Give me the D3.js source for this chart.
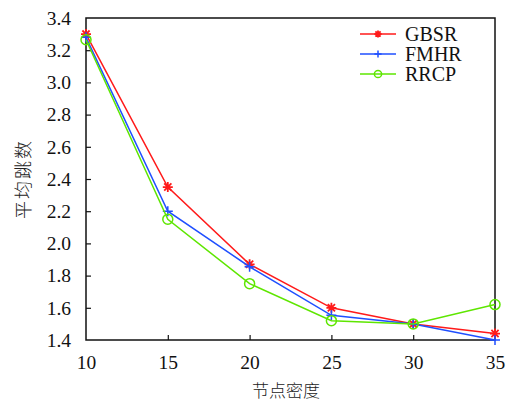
<!DOCTYPE html>
<html>
<head>
<meta charset="utf-8">
<script src="https://cdn.jsdelivr.net/npm/d3@7"></script>
<style>
  body { margin: 0; background: #fff; }
  svg { display: block; }
</style>
</head>
<body>
<div id="chart"></div>
<script>
(function(){
  // node density on x, average hop count on y
  const density = [10, 15, 20, 25, 30, 35];
  const gbsr = [3.30, 2.35, 1.87, 1.60, 1.50, 1.44];
  const fmhr = [3.28, 2.20, 1.855, 1.553, 1.50, 1.40];
  const rrcp = [3.265, 2.15, 1.75, 1.52, 1.50, 1.62];
  const yTicks = [1.4, 1.6, 1.8, 2.0, 2.2, 2.4, 2.6, 2.8, 3.0, 3.2, 3.4];
  const seriesNames = ["GBSR", "FMHR", "RRCP"];

  const width = 512, height = 405;
  const margin = { top: 18, right: 17, bottom: 65, left: 86 };
  const iw = width - margin.left - margin.right;
  const ih = height - margin.top - margin.bottom;
  const serif = "'Liberation Serif', 'Times New Roman', serif";

  const series = [
    { name: seriesNames[0], values: gbsr, color: "#ff1a1a", marker: "star" },
    { name: seriesNames[1], values: fmhr, color: "#1f4fff", marker: "plus" },
    { name: seriesNames[2], values: rrcp, color: "#5ee600", marker: "circle" }
  ];

  const svg = d3.select("#chart").append("svg")
    .attr("width", width)
    .attr("height", height);

  const g = svg.append("g")
    .attr("transform", `translate(${margin.left},${margin.top})`);

  const x = d3.scaleLinear().domain([10, 35]).range([0, iw]);
  const y = d3.scaleLinear().domain([1.4, 3.4]).range([ih, 0]);

  // axes with inward ticks
  const xAxis = g.append("g")
    .attr("transform", `translate(0,${ih})`)
    .call(d3.axisBottom(x).tickValues(density).tickSize(-5).tickPadding(15).tickFormat(d3.format("d")));
  const yAxis = g.append("g")
    .call(d3.axisLeft(y).tickValues(yTicks).tickSize(-5).tickPadding(15).tickFormat(d3.format(".1f")));
  [xAxis, yAxis].forEach(a => {
    a.attr("font-family", null).attr("font-size", null);
    a.select(".domain").remove();
    a.selectAll(".tick line").attr("stroke", "#111").attr("stroke-width", 1.2);
    a.selectAll(".tick text")
      .style("font-family", serif)
      .style("font-size", "19.5px")
      .attr("fill", "#111");
  });
  // hide ticks at the corners
  xAxis.selectAll(".tick line").filter(d => d === 10 || d === 35).remove();
  yAxis.selectAll(".tick line").filter(d => d === 1.4 || d === 3.4).remove();

  // frame
  g.append("rect")
    .attr("x", 0).attr("y", 0)
    .attr("width", iw).attr("height", ih)
    .attr("fill", "none")
    .attr("stroke", "#111")
    .attr("stroke-width", 1.5);

  function drawMarker(sel, type, color, r) {
    const k = r * 0.72;
    if (type === "circle") {
      sel.append("circle").attr("r", r)
        .attr("fill", "none").attr("stroke", color).attr("stroke-width", 1.5);
    } else if (type === "plus") {
      sel.append("path").attr("d", `M${-r},0H${r}M0,${-r}V${r}`)
        .attr("stroke", color).attr("stroke-width", 1.5);
    } else {
      sel.append("path").attr("d", `M${-r},0H${r}M0,${-r}V${r}M${-k},${-k}L${k},${k}M${-k},${k}L${k},${-k}`)
        .attr("stroke", color).attr("stroke-width", 1.8);
    }
  }

  const line = d3.line()
    .x((d, i) => x(density[i]))
    .y(d => y(d));

  series.forEach(s => {
    g.append("path")
      .datum(s.values)
      .attr("fill", "none")
      .attr("stroke", s.color)
      .attr("stroke-width", 1.5)
      .attr("d", line);
    g.selectAll(null)
      .data(s.values)
      .enter().append("g")
      .attr("transform", (d, i) => `translate(${x(density[i])},${y(d)})`)
      .each(function(){ drawMarker(d3.select(this), s.marker, s.color, 5); });
  });

  // legend
  const legend = g.append("g").attr("transform", `translate(${274},${16})`);
  series.forEach((s, i) => {
    const row = legend.append("g").attr("transform", `translate(0,${i * 20})`);
    row.append("line").attr("x1", 0).attr("x2", 36).attr("y1", 0).attr("y2", 0)
      .attr("stroke", s.color).attr("stroke-width", 1.5);
    drawMarker(row.append("g").attr("transform", "translate(18,0)"), s.marker, s.color, 3.6);
    row.append("text")
      .attr("x", 45).attr("y", 0).attr("dy", "0.35em")
      .style("font-family", serif)
      .style("font-size", "20px")
      .attr("fill", "#111")
      .text(s.name);
  });

  // axis titles
  svg.append("text")
    .attr("x", 286).attr("y", 397)
    .attr("text-anchor", "middle")
    .style("font-family", "'Noto Sans CJK SC', sans-serif")
    .style("font-size", "17px")
    .style("font-weight", 300)
    .attr("fill", "#222")
    .text("节点密度");
  svg.append("text")
    .attr("transform", "translate(30,179) rotate(-90)")
    .attr("text-anchor", "middle")
    .style("font-family", "'Noto Sans CJK SC', sans-serif")
    .style("font-size", "18px")
    .style("font-weight", 300)
    .style("letter-spacing", "2px")
    .attr("fill", "#222")
    .text("平均跳数");
})();
</script>
</body>
</html>
